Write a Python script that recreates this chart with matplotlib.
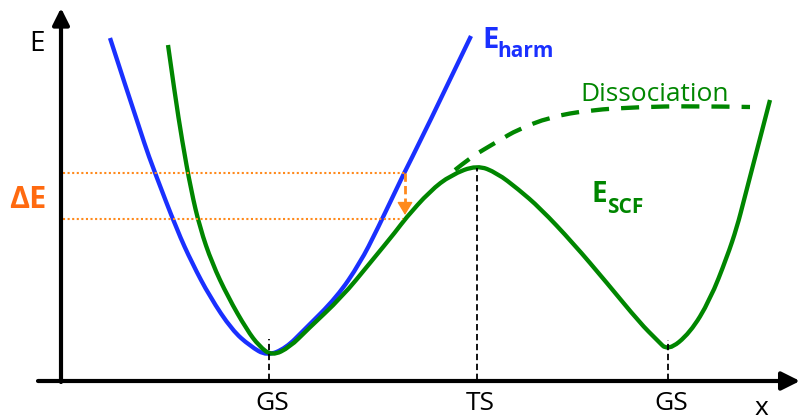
import matplotlib.pyplot as plt
from matplotlib.path import Path
from matplotlib.patches import PathPatch

plt.rcParams['font.family'] = ['Open Sans', 'DejaVu Sans']

# Kurver lest av bildet (x = posisjon, E = energi, origo i aksekrysset)
harm_x = [49, 82, 94, 116, 131, 149, 171, 189, 206, 225, 243, 276, 299, 316, 343, 360, 410]
harm_E = [342, 240, 207, 150, 117, 83, 50, 34, 24, 32, 50, 83, 117, 150, 207, 240, 344]

scf_x = [107, 114, 121, 130, 139, 151, 167, 186, 198, 211, 229, 246, 281, 309, 336, 344,
         369, 390, 416, 436, 457, 479, 512, 546, 579, 596, 607, 629, 649, 666, 676, 683, 709]
scf_E = [335, 285, 240, 190, 152, 117, 83, 50, 34, 24, 33, 50, 83, 117, 150, 161,
         189, 205, 215, 207, 191, 172, 137, 97, 57, 40, 29, 47, 80, 123, 153, 180, 280]

diss_x = [394, 409, 422, 439, 456, 489, 529, 579, 629, 689]
diss_E = [210, 222, 230, 240, 250, 263, 270, 273, 274, 273]

# Stasjonære punkter (GS, TS, GS)
stat_x = [208, 416, 607]
stat_E = [41, 212, 40]
stat_lab = ['GS', 'TS', 'GS']

# Energinivåer for Delta E
dE_top = 207
dE_bot = 161
dE_x = 344

blue = '#1a30ff'
green = '#008600'
orange = '#ff8a1c'


def glatt_kurve(xs, ys, **kw):
    # Kvadratiske Bezier-segmenter gjennom midtpunktene, de avleste punktene er kontrollpunkter
    pts = list(zip(xs, ys))
    verts = [pts[0]]
    codes = [Path.MOVETO]
    for i in range(1, len(pts) - 1):
        if i < len(pts) - 2:
            end = ((pts[i][0] + pts[i + 1][0]) / 2, (pts[i][1] + pts[i + 1][1]) / 2)
        else:
            end = pts[-1]
        verts += [pts[i], end]
        codes += [Path.CURVE3, Path.CURVE3]
    ax.add_patch(PathPatch(Path(verts, codes), fill=False, **kw))


fig = plt.figure(figsize=(8.01, 4.2), dpi=100)
ax = fig.add_axes([0, 0, 1, 1])
ax.set_xlim(-61, 740)
ax.set_ylim(-40, 380)
ax.axis('off')

# Akser med piler
ax.annotate('', xy=(739, -1), xytext=(-23, -1),
            arrowprops=dict(arrowstyle='-|>,head_length=1.0,head_width=0.5', lw=3,
                            color='k', mutation_scale=11, shrinkA=0, shrinkB=0))
ax.annotate('', xy=(0, 372), xytext=(0, -2),
            arrowprops=dict(arrowstyle='-|>,head_length=1.0,head_width=0.5', lw=3,
                            color='k', mutation_scale=10, shrinkA=0, shrinkB=0))

# Stiplede loddlinjer og etiketter
for x, e, lab in zip(stat_x, stat_E, stat_lab):
    ax.plot([x, x], [0, e], color='k', lw=1.3, ls=(0, (3.5, 2)))
    ax.text(x + 3, -30, lab, fontsize=19, ha='center', va='baseline')

# Kurvene
glatt_kurve(harm_x, harm_E, edgecolor=blue, lw=3.1, capstyle='butt')
glatt_kurve(scf_x, scf_E, edgecolor=green, lw=3.1, capstyle='butt')
glatt_kurve(diss_x, diss_E, edgecolor=green, lw=3.1, ls=(0, (4.2, 2.8)), capstyle='butt')

# Delta E
ax.plot([2, dE_x], [dE_top, dE_top], color=orange, lw=1.5, ls=(0, (1, 1.2)))
ax.plot([2, dE_x - 2], [dE_bot, dE_bot], color=orange, lw=1.5, ls=(0, (1, 1.2)))
ax.plot([dE_x, dE_x], [dE_top, dE_bot + 12], color=orange, lw=2, ls=(0, (3, 1.5)))
ax.annotate('', xy=(dE_x, dE_bot + 4), xytext=(dE_x, dE_bot + 14),
            arrowprops=dict(arrowstyle='-|>,head_length=1.0,head_width=0.6', lw=1,
                            color=orange, mutation_scale=8, shrinkA=0, shrinkB=0))

# Tekster
ax.text(-24, 329, 'E', fontsize=20, ha='center', va='baseline')
ax.text(-33, 172, 'ΔE', fontsize=22, fontweight='bold', color='#ff6a10',
        ha='center', va='baseline')
ax.text(421, 332, 'E', fontsize=21, fontweight='bold', color=blue, va='baseline')
ax.text(436, 323, 'harm', fontsize=15, fontweight='bold', color=blue, va='baseline')
ax.text(531, 178, 'E', fontsize=20, fontweight='bold', color=green, va='baseline')
ax.text(546, 167, 'SCF', fontsize=15, fontweight='bold', color=green, va='baseline')
ax.text(519, 279, 'Dissociation', fontsize=19, color=green, va='baseline')
ax.text(700, -35, 'x', fontsize=19, ha='center', va='baseline')

fig.savefig('out.png', dpi=100)
